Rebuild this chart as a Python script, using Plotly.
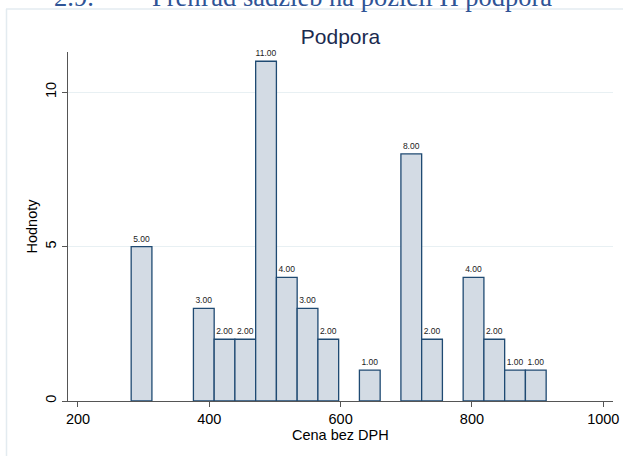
import plotly.graph_objects as go

# ---- data ----
chart_title = "Podpora"
x_title = "Cena bez DPH"
y_title = "Hodnoty"
doc_number = "2.9."
doc_heading = "Prehľad sadzieb na pozícii H podpora"
bin_start = 281.0
bin_width = 31.6
counts = [5, 0, 0, 3, 2, 2, 11, 4, 3, 2, 0, 1, 0, 8, 2, 0, 4, 2, 1, 1]
x_ticks = [200, 400, 600, 800, 1000]
y_ticks = [0, 5, 10]

# ---- derived ----
xs, ys, labels = [], [], []
for i, c in enumerate(counts):
    if c > 0:
        xs.append(bin_start + bin_width * (i + 0.5))
        ys.append(c)
        labels.append(f"{c:.2f}")

W, H = 623, 456
ML, MR, MT, MB = 68, 10, 52, 55
PW, PH = W - ML - MR, H - MT - MB


def px(x):
    return (x - ML) / PW


def py(y):
    return (H - MB - y) / PH


fig = go.Figure(
    go.Bar(
        x=xs,
        y=ys,
        width=bin_width,
        marker=dict(color="#d3dbe4", line=dict(color="#1f4a72", width=1.3)),
        text=labels,
        textposition="outside",
        textfont=dict(size=8.5, color="#222222", family="Liberation Sans, Arial, sans-serif"),
        constraintext="none",
        cliponaxis=False,
        hoverinfo="x+y",
    )
)

font_main = "Liberation Sans, Arial, Helvetica, sans-serif"

fig.update_layout(
    width=W,
    height=H,
    margin=dict(l=ML, r=MR, t=MT, b=MB, autoexpand=False),
    paper_bgcolor="white",
    plot_bgcolor="white",
    showlegend=False,
    font=dict(family=font_main, color="black", size=14),
    title=dict(
        text=chart_title,
        x=340.5 / W,
        xanchor="center",
        y=1 - 37 / H,
        yanchor="middle",
        font=dict(size=21, color="#1b2b4f", family=font_main),
    ),
    xaxis=dict(
        range=[184.8, 1014.8],
        tickvals=x_ticks,
        ticks="outside",
        ticklen=5,
        tickcolor="#555555",
        showline=True,
        linecolor="#555555",
        linewidth=1,
        showgrid=False,
        zeroline=False,
        automargin=False,
        tickfont=dict(size=14.5, color="black"),
    ),
    yaxis=dict(
        range=[0, 11.3],
        tickvals=y_ticks,
        tickangle=-90,
        ticks="outside",
        ticklen=5,
        tickcolor="#555555",
        showline=True,
        linecolor="#555555",
        linewidth=1,
        showgrid=True,
        gridcolor="#e8f0f3",
        gridwidth=1,
        zeroline=False,
        automargin=False,
        tickfont=dict(size=14.5, color="black"),
        title=dict(text=y_title, font=dict(size=14.5, color="black"), standoff=2),
    ),
    shapes=[
        dict(type="line", xref="paper", yref="paper", x0=px(6), x1=px(W + 5), y0=py(9), y1=py(9),
             line=dict(color="#e3ebf0", width=1.5)),
        dict(type="line", xref="paper", yref="paper", x0=px(6.5), x1=px(6.5), y0=py(9), y1=py(H + 5),
             line=dict(color="#e3ebf0", width=1.5)),
    ],
    annotations=[
        dict(text=x_title, xref="paper", yref="paper", x=0.5, y=py(435), xanchor="center", yanchor="middle",
             showarrow=False, font=dict(size=14.5, color="black", family=font_main)),
        dict(text=doc_number, xref="paper", yref="paper", x=px(52), y=py(13.5), xanchor="left", yanchor="bottom",
             showarrow=False, font=dict(family="Liberation Serif, Times New Roman, serif", size=26.5, color="#2f5496")),
        dict(text=doc_heading, xref="paper", yref="paper", x=px(150), y=py(13.5), xanchor="left", yanchor="bottom",
             showarrow=False, font=dict(family="Liberation Serif, Times New Roman, serif", size=26.5, color="#2f5496")),
    ],
)

fig.write_html(
    "out.html",
    config={"displayModeBar": False},
    post_script="document.body.style.margin='0';document.body.style.overflow='hidden';",
)
